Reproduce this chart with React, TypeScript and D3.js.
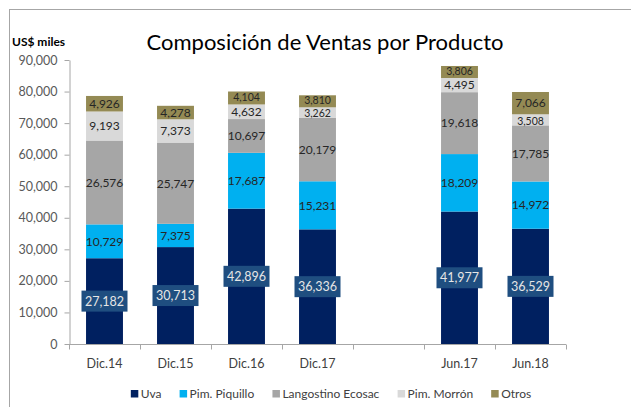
import React, { useEffect, useRef } from "react";
import * as d3 from "d3";

const categories = ["Dic.14", "Dic.15", "Dic.16", "Dic.17", "", "Jun.17", "Jun.18"];
const seriesNames = ["Uva", "Pim. Piquillo", "Langostino Ecosac", "Pim. Morrón", "Otros"];
const uva = [27182, 30713, 42896, 36336, null, 41977, 36529];
const piquillo = [10729, 7375, 17687, 15231, null, 18209, 14972];
const langostino = [26576, 25747, 10697, 20179, null, 19618, 17785];
const morron = [9193, 7373, 4632, 3262, null, 4495, 3508];
const otros = [4926, 4278, 4104, 3810, null, 3806, 7066];
const yTicks = [0, 10000, 20000, 30000, 40000, 50000, 60000, 70000, 80000, 90000];
const colors = ["#002060", "#00B0F0", "#A6A6A6", "#D9D9D9", "#948A54"];

const FONT = "Lato, 'Open Sans', sans-serif";

export default function App() {
  const ref = useRef<SVGSVGElement>(null);
  useEffect(() => {
    document.body.style.margin = "0";
    const svg = d3.select(ref.current);
    svg.selectAll("*").remove();

    // frame
    svg.append("line").attr("x1", 9).attr("y1", 9.5).attr("x2", 631).attr("y2", 9.5).attr("stroke", "#A6A6A6");
    svg.append("line").attr("x1", 9.5).attr("y1", 9).attr("x2", 9.5).attr("y2", 407).attr("stroke", "#A6A6A6");

    svg.append("text").attr("x", 325).attr("y", 50).attr("text-anchor", "middle")
      .attr("font-family", FONT).attr("font-size", 22).attr("fill", "#000")
      .text("Composición de Ventas por Producto");
    svg.append("text").attr("x", 12).attr("y", 46)
      .attr("font-family", FONT).attr("font-size", 12).attr("font-weight", "bold").attr("fill", "#000")
      .text("US$ miles");

    const x = d3.scaleBand<string>().domain(categories.map((c, i) => i + "")).range([69, 566]).padding(0);
    const y = d3.scaleLinear().domain([0, 90000]).range([344, 60]);
    const bw = x.bandwidth();
    const barW = bw * 0.52;

    const rows = categories.map((c, i) => ({
      key: i + "",
      vals: [uva[i], piquillo[i], langostino[i], morron[i], otros[i]],
    }));

    // y axis
    const ya = svg.append("g").attr("transform", "translate(69.5,0)")
      .call(d3.axisLeft(y).tickValues(yTicks).tickSize(5).tickSizeOuter(0).tickPadding(7)
        .tickFormat((d) => d3.format(",")(d as number)));
    ya.select(".domain").attr("stroke", "#A6A6A6");
    ya.selectAll(".tick line").attr("stroke", "#A6A6A6");
    ya.selectAll("text").attr("font-family", FONT).attr("font-size", 12.5).attr("fill", "#595959");

    // bars
    const g = svg.append("g");
    rows.forEach((r) => {
      let base = 0;
      r.vals.forEach((v, s) => {
        if (v == null) return;
        const x0 = (x(r.key) as number) + (bw - barW) / 2;
        const yTop = y(base + v);
        const yBot = y(base);
        g.append("rect").attr("x", x0).attr("y", yTop).attr("width", barW).attr("height", yBot - yTop)
          .attr("fill", colors[s]);
        const cx = x0 + barW / 2;
        const cy = (yTop + yBot) / 2;
        if (s === 0) {
          g.append("rect").attr("x", cx - 23).attr("y", cy - 10.5).attr("width", 46).attr("height", 21)
            .attr("fill", "#1F4E80");
          g.append("text").attr("x", cx).attr("y", cy).attr("dy", "0.36em").attr("text-anchor", "middle")
            .attr("font-family", FONT).attr("font-size", 12.5).attr("fill", "#E6E6E6")
            .text(d3.format(",")(v));
        } else {
          const h = yBot - yTop;
          const small = h < 13;
          const fs = small ? 10.5 : 12;
          // nudge crowded top labels apart slightly
          const nudge = small ? (s === 4 ? -1 : s === 3 ? 1 : 0) : 0;
          g.append("text").attr("x", cx).attr("y", cy + nudge).attr("dy", "0.36em").attr("text-anchor", "middle")
            .attr("font-family", FONT).attr("font-size", fs).attr("fill", "#262626")
            .text(d3.format(",")(v));
        }
        base += v;
      });
    });

    // x axis
    const xa = svg.append("g").attr("transform", "translate(0,344.5)");
    xa.append("line").attr("x1", 69).attr("x2", 566).attr("stroke", "#A6A6A6");
    const bounds = categories.map((c, i) => x(i + "") as number).concat([566]);
    bounds.forEach((b) => {
      xa.append("line").attr("x1", Math.round(b) + 0.5).attr("x2", Math.round(b) + 0.5).attr("y1", 0).attr("y2", 5).attr("stroke", "#A6A6A6");
    });
    categories.forEach((c, i) => {
      xa.append("text").attr("x", (x(i + "") as number) + bw / 2).attr("y", 23).attr("text-anchor", "middle")
        .attr("font-family", FONT).attr("font-size", 12.5).attr("fill", "#404040").text(c);
    });

    // legend
    const lg = svg.append("g").attr("transform", "translate(0,394)");
    const items: any[] = [];
    seriesNames.forEach((n, i) => {
      const it = lg.append("g");
      it.append("rect").attr("x", 0).attr("y", -4).attr("width", 7.5).attr("height", 7.5).attr("fill", colors[i]);
      it.append("text").attr("x", 10).attr("y", 0).attr("dy", "0.36em")
        .attr("font-family", FONT).attr("font-size", 12).attr("fill", "#404040").text(n);
      items.push(it);
    });
    const widths = items.map((it) => (it.node() as SVGGElement).getBBox().width);
    const gap = 18;
    const total = d3.sum(widths) + gap * (widths.length - 1);
    let cur = 331 - total / 2;
    items.forEach((it, i) => {
      it.attr("transform", `translate(${cur},0)`);
      cur += widths[i] + gap;
    });
  }, []);
  return <svg ref={ref} width={631} height={407} style={{ display: "block", background: "#fff" }} />;
}
